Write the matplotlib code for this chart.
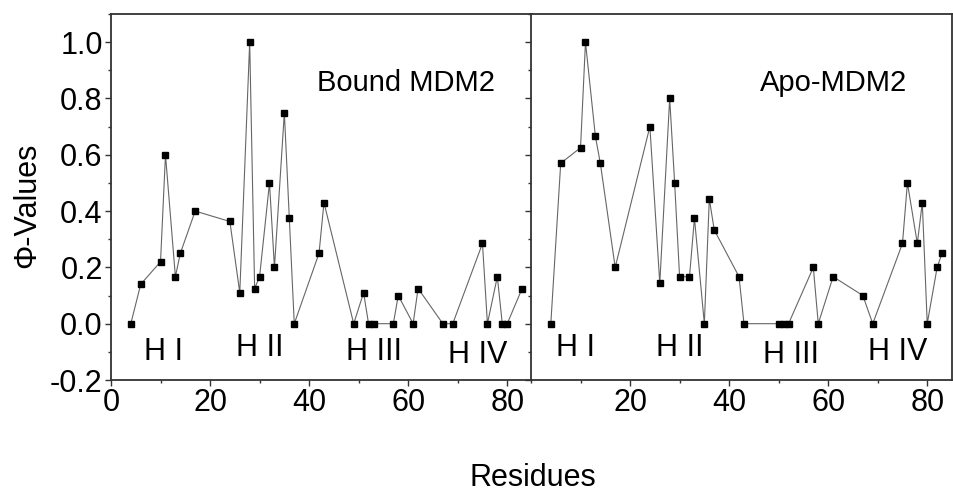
import matplotlib
matplotlib.use("Agg")
import matplotlib.pyplot as plt
from matplotlib import font_manager
from matplotlib.ticker import MultipleLocator

names = {f.name for f in font_manager.fontManager.ttflist}
FONT = "Liberation Sans Narrow" if "Liberation Sans Narrow" in names else "Liberation Sans"
plt.rcParams["font.family"] = [FONT, "DejaVu Sans"]

# Bound MDM2
bound_res = [4, 6, 10, 11, 13, 14, 17, 24, 26, 28, 29, 30, 32, 33, 35, 36, 37,
             42, 43, 49, 51, 52, 53, 57, 58, 61, 62, 67, 69, 75, 76, 78, 79, 80, 83]
bound_phi = [0.0, 0.14, 0.22, 0.60, 0.167, 0.25, 0.40, 0.363, 0.11, 1.0, 0.125, 0.167,
             0.50, 0.20, 0.75, 0.375, 0.0, 0.25, 0.43, 0.0, 0.11, 0.0, 0.0, 0.0, 0.10,
             0.0, 0.125, 0.0, 0.0, 0.285, 0.0, 0.167, 0.0, 0.0, 0.125]

# Apo-MDM2
apo_res = [4, 6, 10, 11, 13, 14, 17, 24, 26, 28, 29, 30, 32, 33, 35, 36, 37,
           42, 43, 50, 51, 52, 57, 58, 61, 67, 69, 75, 76, 78, 79, 80, 82, 83]
apo_phi = [0.0, 0.57, 0.625, 1.0, 0.665, 0.57, 0.20, 0.70, 0.143, 0.80, 0.50, 0.167,
           0.167, 0.375, 0.0, 0.443, 0.333, 0.167, 0.0, 0.0, 0.0, 0.0, 0.20, 0.0,
           0.167, 0.10, 0.0, 0.285, 0.50, 0.285, 0.43, 0.0, 0.20, 0.25]

helix_labels = ["H I", "H II", "H III", "H IV"]
bound_helix_x = [10.5, 30.0, 53.0, 74.0]
bound_helix_y = [-0.10, -0.085, -0.10, -0.11]
apo_helix_x = [9.0, 30.0, 52.5, 74.0]
apo_helix_y = [-0.085, -0.085, -0.11, -0.10]

fig = plt.figure(figsize=(9.54, 4.96), dpi=100)
axL = fig.add_axes([111/954, 116/496, 421/954, 366/496])
axR = fig.add_axes([531/954, 116/496, 421/954, 366/496], sharey=axL)

spine_col = "#333333"
for ax, xs, ys, hx, hy, title, tx in [
        (axL, bound_res, bound_phi, bound_helix_x, bound_helix_y, "Bound MDM2", 59.5),
        (axR, apo_res, apo_phi, apo_helix_x, apo_helix_y, "Apo-MDM2", 61.0)]:
    ax.plot(xs, ys, color="#666666", lw=0.8, marker="s", ms=4.2,
            mfc="black", mec="black", zorder=3)
    ax.set_xlim(0, 85)
    ax.set_ylim(-0.2, 1.1)
    ax.xaxis.set_major_locator(MultipleLocator(20))
    ax.xaxis.set_minor_locator(MultipleLocator(10))
    ax.yaxis.set_major_locator(MultipleLocator(0.2))
    ax.yaxis.set_minor_locator(MultipleLocator(0.1))
    ax.tick_params(which="both", direction="out", color=spine_col, width=1.0,
                   top=False, right=False, labelsize=22, pad=2)
    ax.tick_params(which="major", length=4)
    ax.tick_params(which="minor", length=2.5)
    for s in ax.spines.values():
        s.set_color(spine_col)
        s.set_linewidth(1.3)
    for lab, x, y in zip(helix_labels, hx, hy):
        ax.text(x, y, lab, ha="center", va="center", fontsize=22)
    ax.text(tx, 0.855, title, ha="center", va="center", fontsize=21)

axL.set_xticks([0, 20, 40, 60, 80])
axL.set_xticklabels(["0", "20", "40", "60", "80"])
axL.set_yticks([-0.2, 0.0, 0.2, 0.4, 0.6, 0.8, 1.0])
axL.set_yticklabels(["-0.2", "0.0", "0.2", "0.4", "0.6", "0.8", "1.0"])
axR.set_xticks([20, 40, 60, 80])
axR.set_xticklabels(["20", "40", "60", "80"])
axR.tick_params(axis="y", which="both", labelleft=False)

fig.text(27/954, 1 - 205/496, "Φ-Values", rotation=90, ha="center", va="center",
         fontsize=22)
fig.text(533/954, 1 - 478/496, "Residues", ha="center", va="center", fontsize=22)

fig.savefig("out.png", dpi=100)
